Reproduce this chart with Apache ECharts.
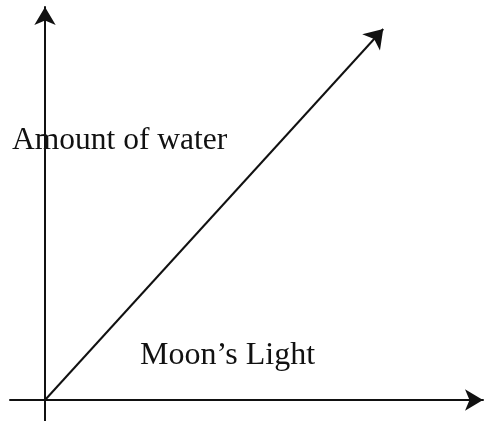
<!DOCTYPE html>
<html>
<head>
<meta charset="utf-8">
<script src="https://cdn.jsdelivr.net/npm/echarts@6/dist/echarts.min.js"></script>
<style>
  html, body { margin: 0; padding: 0; background: #fff; }
  #chart { width: 484px; height: 421px; }
</style>
</head>
<body>
<div id="chart"></div>
<script>
// axis ranges (no ticks in the picture, units are arbitrary)
const xRange = [-1, 12.51];
const yRange = [-0.6, 11.23];
// the rising line, from the origin up to the arrow tip
const risePoints = [[0, 0], [9.66, 10.6]];
// axis titles
const yTitle = 'Amount of water';
const xTitle = 'Moon’s Light';

let chart = echarts.init(document.getElementById('chart'));

let axisStyle = {
  show: true,
  onZero: true,
  symbol: ['none', 'arrow'],
  symbolSize: [16, 18],
  lineStyle: { color: '#111', width: 2 }
};

let option = {
  backgroundColor: '#fff',
  animation: false,
  grid: { left: 10, right: 1, top: 7, bottom: 0 },
  xAxis: {
    type: 'value',
    min: xRange[0],
    max: xRange[1],
    axisLine: axisStyle,
    axisTick: { show: false },
    axisLabel: { show: false },
    splitLine: { show: false }
  },
  yAxis: {
    type: 'value',
    min: yRange[0],
    max: yRange[1],
    axisLine: axisStyle,
    axisTick: { show: false },
    axisLabel: { show: false },
    splitLine: { show: false }
  },
  series: [
    {
      type: 'lines',
      coordinateSystem: 'cartesian2d',
      symbol: ['none', 'arrow'],
      symbolSize: [16, 18],
      lineStyle: { color: '#111', width: 2, opacity: 1 },
      data: [{ coords: risePoints }]
    }
  ],
  graphic: [
    {
      type: 'text',
      left: 12,
      top: 125,
      style: { text: yTitle, font: '31.5px "Liberation Serif"', fill: '#111' }
    },
    {
      type: 'text',
      left: 140,
      top: 340,
      style: { text: xTitle, font: '32px "Liberation Serif"', fill: '#111' }
    }
  ]
};
chart.setOption(option);
</script>
</body>
</html>
